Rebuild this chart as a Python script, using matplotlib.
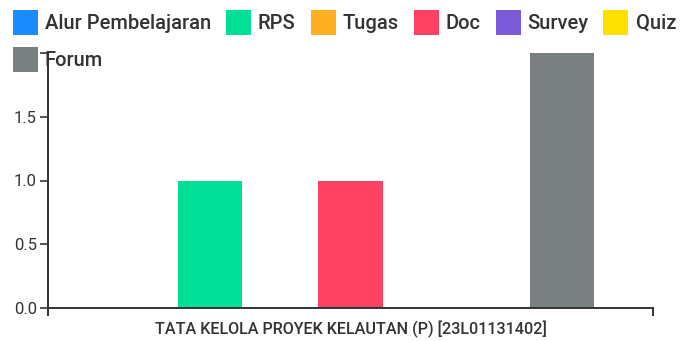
import matplotlib
matplotlib.use("Agg")
import matplotlib.pyplot as plt
import numpy as np

# data
kategori = "TATA KELOLA PROYEK KELAUTAN (P) [23L01131402]"
jenis = ["Alur Pembelajaran", "RPS", "Tugas", "Doc", "Survey", "Quiz", "Forum"]
jumlah = [0, 1, 0, 1, 0, 0, 2]
warna = ["#1a8cff", "#00df96", "#ffaf1f", "#ff4163", "#7a5ad6", "#ffe000", "#7a8082"]

plt.rcParams["font.family"] = ["Roboto", "DejaVu Sans"]
teks = "#333333"

fig = plt.figure(figsize=(6.8, 3.41), dpi=100)
ax = fig.add_axes([48 / 680, 1 - 308 / 341, 605 / 680, 255 / 341])

n = len(jenis)
posisi = np.arange(n) - (n - 1) / 2
bars = []
for p, v, w, nama in zip(posisi, jumlah, warna, jenis):
    b = ax.bar(p, v, width=0.91, color=w, label=nama, zorder=2)
    bars.append(b)

ax.set_xlim(-4.3, 4.3)
ax.set_ylim(0, 2)

for s in ["top", "right"]:
    ax.spines[s].set_visible(False)
for s in ["left", "bottom"]:
    ax.spines[s].set_linewidth(1.4)
    ax.spines[s].set_color(teks)

ax.set_yticks([0, 0.5, 1.0, 1.5, 2.0])
ax.set_yticklabels(["0.0", "0.5", "1.0", "1.5", ""])
ax.tick_params(axis="y", direction="out", length=6, width=1.2, color=teks,
               labelsize=12, labelcolor=teks, pad=2)

ax.set_xticks([0])
ax.set_xticklabels([kategori], fontweight="medium")
ax.set_xticks([-4.3, 4.3], minor=True)
ax.tick_params(axis="x", which="major", length=0, labelsize=11.6, labelcolor=teks, pad=9)
ax.tick_params(axis="x", which="minor", direction="out", length=6, width=1.4, color=teks)

# urutan kolom supaya Forum turun ke baris kedua
urut = [0, 6, 1, 2, 3, 4, 5]
leg = fig.legend([bars[i] for i in urut], [jenis[i] for i in urut],
                 ncol=6, loc="upper left", bbox_to_anchor=(0.0069, 0.994),
                 frameon=False, prop={"size": 14.5, "weight": "medium"},
                 handlelength=1.24, handleheight=1.5,
                 handletextpad=0.35, columnspacing=0.74, labelspacing=0.62,
                 borderaxespad=0.0, labelcolor=teks)

fig.savefig("out.png", dpi=100)
